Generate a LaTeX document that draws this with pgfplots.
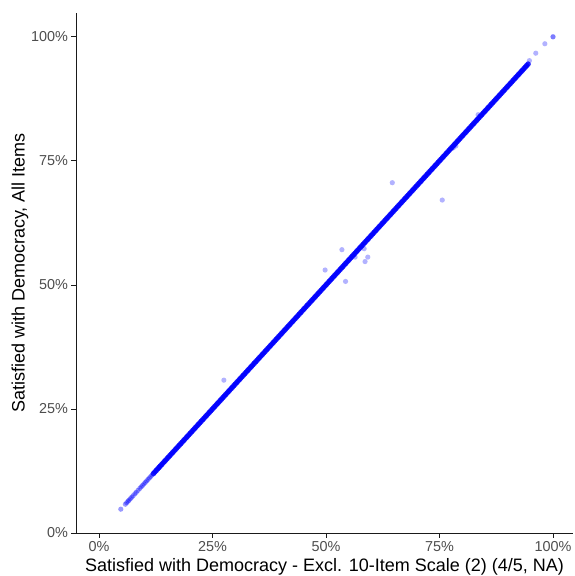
\documentclass[border=0pt]{standalone}
\usepackage{pgfplots}
\pgfplotsset{compat=1.18}
\usepackage{fontspec}
\setmainfont{Liberation Sans}
\definecolor{ticklab}{HTML}{4D4D4D}
\definecolor{axline}{HTML}{1A1A1A}
\begin{document}
\begin{tikzpicture}
\begin{axis}[
  name=ax,
  width=497pt, height=520pt, scale only axis,
  xmin=-0.0507, xmax=1.044, ymin=0, ymax=1.048,
  axis x line=bottom, axis y line=left,
  axis line style={-, draw=axline, line width=0.8pt},
  tick align=outside, major tick length=4.5pt,
  tick style={draw=axline, line width=0.8pt},
  xtick={0,0.25,0.5,0.75,1}, ytick={0,0.25,0.5,0.75,1},
  xticklabels={0\%,25\%,50\%,75\%,100\%},
  yticklabels={0\%,25\%,50\%,75\%,100\%},
  ticklabel style={font=\fontsize{14.4}{17}\selectfont, text=ticklab},
  xlabel={Satisfied with Democracy - Excl. 10-Item Scale (2) (4/5, NA)},
  ylabel={Satisfied with Democracy, All Items},
  label style={font=\fontsize{18}{21}\selectfont},
  ylabel style={yshift=-4pt},
  clip=false,
]
% dense diagonal
\addplot[only marks, mark=*, color=blue, mark size=2.8pt, mark options={draw opacity=0, fill opacity=0.85}]
table[row sep=\\, x=v, y=v] {v\\
0.120\\0.123\\0.126\\0.129\\0.132\\0.135\\0.138\\0.141\\0.144\\0.147\\
0.150\\0.153\\0.156\\0.159\\0.162\\0.165\\0.168\\0.171\\0.174\\0.177\\
0.180\\0.183\\0.186\\0.189\\0.192\\0.195\\0.198\\0.201\\0.204\\0.207\\
0.210\\0.213\\0.216\\0.219\\0.222\\0.225\\0.228\\0.231\\0.234\\0.237\\
0.240\\0.243\\0.246\\0.249\\0.252\\0.255\\0.258\\0.261\\0.264\\0.267\\
0.270\\0.273\\0.276\\0.279\\0.282\\0.285\\0.288\\0.291\\0.294\\0.297\\
0.300\\0.303\\0.306\\0.309\\0.312\\0.315\\0.318\\0.321\\0.324\\0.327\\
0.330\\0.333\\0.336\\0.339\\0.342\\0.345\\0.348\\0.351\\0.354\\0.357\\
0.360\\0.363\\0.366\\0.369\\0.372\\0.375\\0.378\\0.381\\0.384\\0.387\\
0.390\\0.393\\0.396\\0.399\\0.402\\0.405\\0.408\\0.411\\0.414\\0.417\\
0.420\\0.423\\0.426\\0.429\\0.432\\0.435\\0.438\\0.441\\0.444\\0.447\\
0.450\\0.453\\0.456\\0.459\\0.462\\0.465\\0.468\\0.471\\0.474\\0.477\\
0.480\\0.483\\0.486\\0.489\\0.492\\0.495\\0.498\\0.501\\0.504\\0.507\\
0.510\\0.513\\0.516\\0.519\\0.522\\0.525\\0.528\\0.531\\0.534\\0.537\\
0.540\\0.543\\0.546\\0.549\\0.552\\0.555\\0.558\\0.561\\0.564\\0.567\\
0.570\\0.573\\0.576\\0.579\\0.582\\0.585\\0.588\\0.591\\0.594\\0.597\\
0.600\\0.603\\0.606\\0.609\\0.612\\0.615\\0.618\\0.621\\0.624\\0.627\\
0.630\\0.633\\0.636\\0.639\\0.642\\0.645\\0.648\\0.651\\0.654\\0.657\\
0.660\\0.663\\0.666\\0.669\\0.672\\0.675\\0.678\\0.681\\0.684\\0.687\\
0.690\\0.693\\0.696\\0.699\\0.702\\0.705\\0.708\\0.711\\0.714\\0.717\\
0.720\\0.723\\0.726\\0.729\\0.732\\0.735\\0.738\\0.741\\0.744\\0.747\\
0.750\\0.753\\0.756\\0.759\\0.762\\0.765\\0.768\\0.771\\0.774\\0.777\\
0.780\\0.783\\0.786\\0.789\\0.792\\0.795\\0.798\\0.801\\0.804\\0.807\\
0.810\\0.813\\0.816\\0.819\\0.822\\0.825\\0.828\\0.831\\0.834\\0.837\\
0.840\\0.843\\0.846\\0.849\\0.852\\0.855\\0.858\\0.861\\0.864\\0.867\\
0.870\\0.873\\0.876\\0.879\\0.882\\0.885\\0.888\\0.891\\0.894\\0.897\\
0.900\\0.903\\0.906\\0.909\\0.912\\0.915\\0.918\\0.921\\0.924\\0.927\\
0.930\\0.933\\0.936\\0.939\\0.942\\0.945\\
};
% sparse low end
\addplot[only marks, mark=*, color=blue, mark size=2.6pt, mark options={draw opacity=0, fill opacity=0.4}]
table[row sep=\\, x=v, y=v] {v\\
0.048\\0.058\\0.061\\0.064\\0.066\\0.069\\0.072\\0.075\\0.079\\0.082\\0.086\\0.090\\0.093\\0.096\\0.099\\0.102\\0.105\\0.108\\0.111\\0.114\\0.117\\0.132\\0.134\\
};
% outliers and top end
\addplot[only marks, mark=*, color=blue, mark size=2.6pt, mark options={draw opacity=0, fill opacity=0.3}]
table[row sep=\\] {x y\\
0.275 0.308\\
0.498 0.530\\
0.535 0.571\\
0.543 0.507\\
0.564 0.556\\
0.584 0.573\\
0.586 0.547\\
0.592 0.556\\
0.646 0.706\\
0.756 0.671\\
0.780 0.776\\
0.786 0.780\\
0.835 0.843\\
0.948 0.952\\
0.962 0.967\\
0.982 0.986\\
1.000 1.000\\
1.000 1.000\\
};
\end{axis}
\pgfresetboundingbox
\path[use as bounding box] ([xshift=-76pt,yshift=-43pt]ax.south west) rectangle ([xshift=1pt,yshift=13pt]ax.north east);
\end{tikzpicture}
\end{document}
